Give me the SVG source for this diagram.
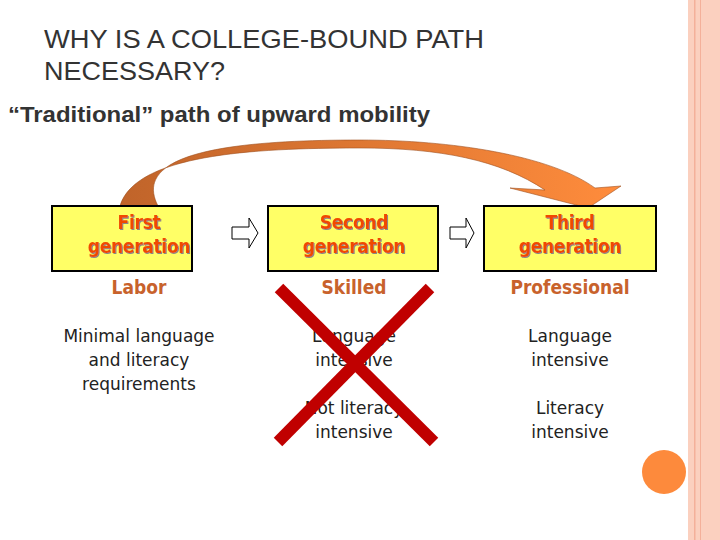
<svg xmlns="http://www.w3.org/2000/svg" width="720" height="540" viewBox="0 0 720 540">
<style>
.t{font-family:"Liberation Sans",Arial,sans-serif;fill:#333}
.box{fill:#ffff66;stroke:#000;stroke-width:2}
.bt{font-family:"DejaVu Sans Condensed","DejaVu Sans",sans-serif;font-weight:bold;font-size:19px;fill:#f04a00;text-anchor:middle;letter-spacing:-0.3px}
.lb{font-family:"DejaVu Sans Condensed","DejaVu Sans",sans-serif;font-weight:bold;font-size:19px;fill:#c8622c;text-anchor:middle}
.d{font-family:"DejaVu Sans","Open Sans",sans-serif;font-size:17px;fill:#222;text-anchor:middle}
.ha{fill:#fff;stroke:#000;stroke-width:1}
</style>
<defs>
<linearGradient id="g" x1="0" y1="0" x2="1" y2="0">
<stop offset="0" stop-color="#c0642a"/><stop offset="1" stop-color="#ff8c3c"/>
</linearGradient>
<filter id="s"><feDropShadow dx="1" dy="1" stdDeviation="0.4" flood-color="#888"/></filter>
</defs>
<rect width="720" height="540" fill="#fff"/>
<rect x="688" y="0" width="32" height="540" fill="#fbd0bf"/>
<rect x="694" y="0" width="1.5" height="540" fill="#f4b09a"/>
<rect x="700" y="0" width="1" height="540" fill="#f4b09a"/>
<circle cx="664" cy="472" r="22" fill="#fd8a3c"/>
<text class="t" x="44" y="48" font-size="25" textLength="440" lengthAdjust="spacingAndGlyphs">WHY IS A COLLEGE-BOUND PATH</text>
<text class="t" x="44" y="80" font-size="25" textLength="181" lengthAdjust="spacingAndGlyphs">NECESSARY?</text>
<text class="t" x="8" y="122" font-size="22" font-weight="bold" fill="#222" textLength="422" lengthAdjust="spacingAndGlyphs">“Traditional” path of upward mobility</text>
<g id="connectors">
<path d="M120,206 C135,155 250,148 360,148 C440,148 500,160 545,190 L510,188 L588,208 L621,186 L595,188 C550,155 450,140 360,140 C235,140 130,152 158,206 Z" fill="url(#g)" stroke="#a05020" stroke-width="0.6"/>
<path class="ha" d="M232,227 H249 V218 L258,233 L249,248 V239 H232 Z"/>
<path class="ha" d="M450,227 H466 V218 L474,233 L466,248 V239 H450 Z"/>
</g>
<g id="first">
<rect class="box" x="52" y="206" width="140" height="65"/>
<text class="bt" x="139" y="229" filter="url(#s)">First</text>
<text class="bt" x="139" y="253" filter="url(#s)">generation</text>
<text class="lb" x="139" y="294">Labor</text>
<text class="d" x="139" y="342">Minimal language</text>
<text class="d" x="139" y="366">and literacy</text>
<text class="d" x="139" y="390">requirements</text>
</g>
<g id="second">
<rect class="box" x="268" y="206" width="170" height="65"/>
<text class="bt" x="354" y="229" filter="url(#s)">Second</text>
<text class="bt" x="354" y="253" filter="url(#s)">generation</text>
<text class="lb" x="354" y="294">Skilled</text>
<text class="d" x="354" y="342">Language</text>
<text class="d" x="354" y="366">intensive</text>
<text class="d" x="354" y="414">Not literacy</text>
<text class="d" x="354" y="438">intensive</text>
</g>
<g id="third">
<rect class="box" x="484" y="206" width="172" height="65"/>
<text class="bt" x="570" y="229" filter="url(#s)">Third</text>
<text class="bt" x="570" y="253" filter="url(#s)">generation</text>
<text class="lb" x="570" y="294">Professional</text>
<text class="d" x="570" y="342">Language</text>
<text class="d" x="570" y="366">intensive</text>
<text class="d" x="570" y="414">Literacy</text>
<text class="d" x="570" y="438">intensive</text>
</g>
<g id="cross" stroke="#c00000" stroke-width="12">
<line x1="279" y1="288" x2="434" y2="442"/>
<line x1="430" y1="288" x2="278" y2="442"/>
</g>
</svg>
